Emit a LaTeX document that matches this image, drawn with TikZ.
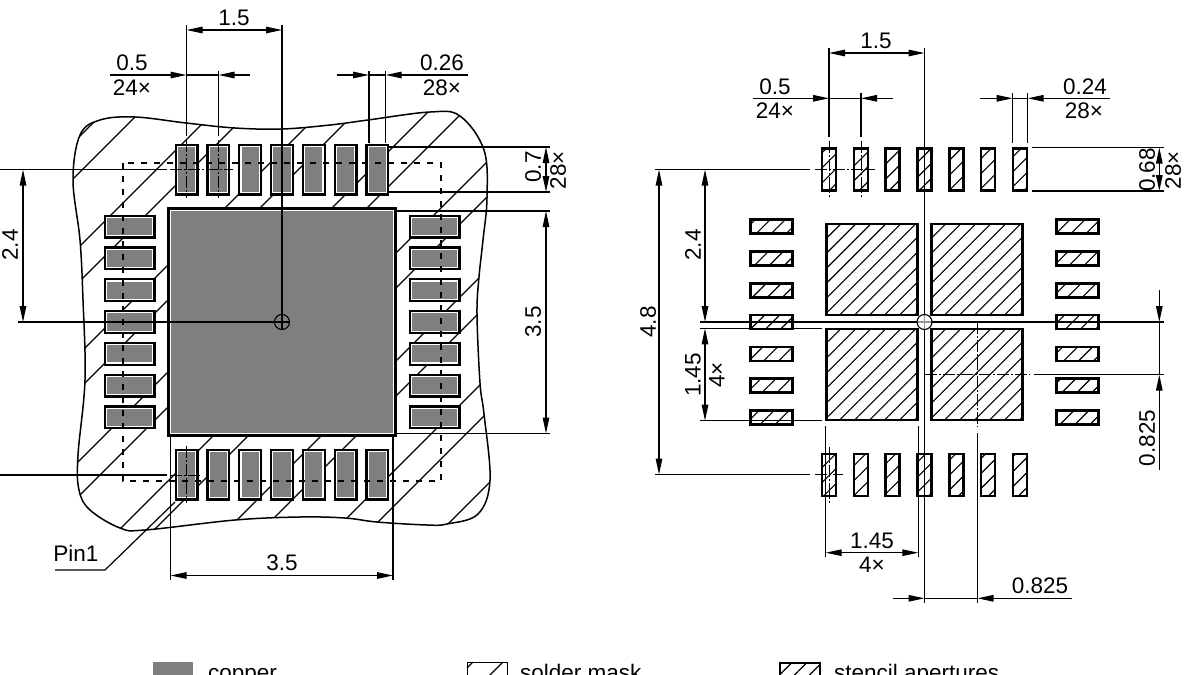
\documentclass[tikz,border=0pt]{standalone}
\usepackage{fontspec}
\setmainfont{Liberation Sans}
\usetikzlibrary{arrows.meta, patterns.meta}
\definecolor{copper}{HTML}{7F7F7F}
\tikzset{dimtip/.tip={Triangle[length=16pt,width=6.5pt]},
         dimline/.style={line width=1.2pt,dimtip-dimtip},
         oneline/.style={line width=1.2pt,-dimtip},
         extline/.style={line width=1.2pt},
         midline/.style={line width=.9pt,dash pattern=on 12pt off 2pt on 2pt off 2pt},
         maskedge/.style={line width=1.5pt},
         maskline/.style={line width=1.2pt},
         dashbox/.style={line width=1.1pt,dash pattern=on 6pt off 7pt},
         lbl/.style={inner sep=0pt,font=\fontsize{22.5}{25}\selectfont},
         legendlbl/.style={inner sep=0pt,anchor=base west,font=\fontsize{22.5}{25}\selectfont},
         padv/.style={draw,line width=2.2pt,fill=white,inner sep=0pt,minimum width=21.8pt,minimum height=49.8pt},
         padh/.style={padv,minimum width=49.8pt,minimum height=21.8pt},
         copperv/.style={fill=copper,inner sep=0pt,minimum width=17.3pt,minimum height=45.3pt},
         copperh/.style={copperv,minimum width=45.3pt,minimum height=17.3pt},
         stencil/.style={draw,line width=2.6pt,inner sep=0pt,pattern={Lines[angle=45,distance=10.6pt,line width=1.1pt]}},
         stencilv/.style={stencil,minimum width=14pt,minimum height=42pt},
         stencilh/.style={stencil,minimum width=42pt,minimum height=14pt},
         stencilq/.style={stencil,minimum width=91pt,minimum height=91pt}}

\begin{document}
\begin{tikzpicture}[x=1pt,y=-1pt]
        \useasboundingbox (0,0) rectangle (1200,675);

        \begin{scope}[maskedge]
            \path[draw,clip] plot[smooth cycle,tension=.6] coordinates {(135,117) (186,123) (235,128) (282,129) (330,125) (368,120) (430,112) (460,116) (484,150) (487,198) (483,240) (479,277) (477,314) (480,383) (484,414) (490,480) (478,514) (447,524) (427,525) (377,522) (345,518) (300,517) (235,520) (145,530) (120,528) (90,510) (79,490) (78,455) (85,380) (83,300) (80,240) (73,180) (80,135) (100,120)};
            \foreach \s in {216,252,326,361,433,468,540,575,649,684,757,792,865,900,972}
                \draw[maskline] (\s,0) -- ({\s-700},700);
        \end{scope}

        \node[draw,line width=2.7pt,fill=white,inner sep=0pt,minimum size=227.4pt](tpad)at(282,322){};
        \node[fill=copper,inner sep=0pt,minimum size=221.5pt](tcu)at(282,322){};
        \foreach \k in {-3,...,3} {
            \node[padv](lt\k)at({282+\k*31.8},169.5){};
            \node[copperv](ct\k)at({282+\k*31.8},169.5){};
            \node[padv](lb\k)at({282+\k*31.8},474.5){};
            \node[copperv](cb\k)at({282+\k*31.8},474.5){};
            \node[padh](ll\k)at(129.5,{322+\k*31.8}){};
            \node[copperh](cl\k)at(129.5,{322+\k*31.8}){};
            \node[padh](lr\k)at(434.5,{322+\k*31.8}){};
            \node[copperh](cr\k)at(434.5,{322+\k*31.8}){};
        }
        \draw[dashbox] (123,163) rectangle (441,481);

        \draw[extline] (186.5,25)--(186.5,136);
        \draw[extline] (218.5,71)--(218.5,136);
        \draw[extline] (282,25)--(282,329);
        \draw[midline] (186.5,140)--(186.5,198);
        \draw[midline] (218.5,140)--(218.5,198);
        \draw[midline] (186.5,446)--(186.5,503);
        \draw[dimline] (186.5,30)--(282,30);
        \node[lbl](l15)at(234,18){1.5};
        \draw[oneline] (110,75)--(186.5,75);
        \draw[extline] (186.5,75)--(218.5,75);
        \draw[oneline] (250,75)--(218.5,75);
        \node[lbl](l05)at(132,63){0.5};
        \node[lbl](l24x)at(132,88){24×};
        \draw[extline] (369,71)--(369,143);
        \draw[extline] (385.7,71)--(385.7,143);
        \draw[oneline] (336.5,75)--(369,75);
        \draw[extline] (369,75)--(385.7,75);
        \draw[oneline] (467.5,75)--(385.7,75);
        \node[lbl](l026)at(442,63){0.26};
        \node[lbl](l28x)at(442,88){28×};
        \draw[extline] (389,147)--(550,147);
        \draw[extline] (389,192)--(550,192);
        \draw[dimline] (546,192)--(546,147);
        \node[lbl,rotate=90](l07)at(533,167){0.7};
        \node[lbl,rotate=90](l28y)at(558,170){28×};
        \draw[extline] (397,211)--(550,211);
        \draw[extline] (397,433.5)--(550,433.5);
        \draw[dimline] (546,433.5)--(546,211);
        \node[lbl,rotate=90](l35r)at(533,322){3.5};
        \draw[extline] (0,169.5)--(167,169.5);
        \draw[midline] (170,169.5)--(233,169.5);
        \draw[extline] (18,322)--(289,322);
        \draw[dimline] (23,322)--(23,169.5);
        \node[lbl,rotate=90](l24)at(10,245){2.4};
        \draw[extline] (0,475)--(167,475);
        \draw[midline] (170,475)--(201,475);
        \draw[extline] (170.5,437)--(170.5,580);
        \draw[extline] (393,437)--(393,580);
        \draw[dimline] (170.5,575.5)--(393,575.5);
        \node[lbl](l35b)at(282,563){3.5};
        \node[lbl](lpin)at(76,553){Pin1};
        \draw[extline] (55,570)--(105,570)--(175,502);
        \node[draw,line width=1.1pt,circle,inner sep=0pt,minimum size=15pt](hub1)at(282,322){};

        \foreach \k in {-3,...,3} {
            \node[stencilv](at\k)at({924.5+\k*31.8},169.5){};
            \node[stencilv](ab\k)at({924.5+\k*31.8},475){};
            \node[stencilh](al\k)at(771.7,{322+\k*31.8}){};
            \node[stencilh](ar\k)at(1077.3,{322+\k*31.8}){};
        }
        \node[stencilq](qa)at(872,269.5){};
        \node[stencilq](qb)at(977,269.5){};
        \node[stencilq](qc)at(872,374.5){};
        \node[stencilq](qd)at(977,374.5){};

        \draw[extline] (829,48)--(829,137);
        \draw[extline] (861,93)--(861,137);
        \draw[extline] (924.5,48)--(924.5,603);
        \draw[midline] (829,141)--(829,197);
        \draw[midline] (861,141)--(861,197);
        \draw[midline] (829,447)--(829,503);
        \draw[dimline] (829,53)--(924.5,53);
        \node[lbl](r15)at(876,41){1.5};
        \draw[oneline] (752.7,98.3)--(829,98.3);
        \draw[extline] (829,98.3)--(861,98.3);
        \draw[oneline] (892.7,98.3)--(861,98.3);
        \node[lbl](r05)at(775,87){0.5};
        \node[lbl](r24x)at(775,111){24×};
        \draw[extline] (1012.7,93)--(1012.7,143);
        \draw[extline] (1027.7,93)--(1027.7,143);
        \draw[oneline] (980,98.3)--(1012.7,98.3);
        \draw[extline] (1012.7,98.3)--(1027.7,98.3);
        \draw[oneline] (1110,98.3)--(1027.7,98.3);
        \node[lbl](r024)at(1085,87){0.24};
        \node[lbl](r28x)at(1084,111){28×};
        \draw[extline] (1031.7,147.5)--(1164,147.5);
        \draw[extline] (1031.7,191)--(1164,191);
        \draw[dimline] (1159.3,191)--(1159.3,147.5);
        \node[lbl,rotate=90](r068)at(1147,170){0.68};
        \node[lbl,rotate=90](r28y)at(1173,170){28×};
        \draw[extline] (655,169.5)--(810,169.5);
        \draw[midline] (815,169.5)--(875,169.5);
        \draw[extline] (655,474.5)--(810,474.5);
        \draw[midline] (815,474.5)--(843,474.5);
        \draw[dimline] (659,474.5)--(659,169.5);
        \node[lbl,rotate=90](r48)at(648,322){4.8};
        \draw[dimline] (705,322)--(705,169.5);
        \node[lbl,rotate=90](r24)at(693,245){2.4};
        \draw[extline] (700,322)--(1164,322);
        \draw[extline] (700,328.3)--(821.7,328.3);
        \draw[extline] (700,420.7)--(821.7,420.7);
        \draw[dimline] (705,420.7)--(705,328.3);
        \node[lbl,rotate=90](r145)at(693,375){1.45};
        \node[lbl,rotate=90](r4x)at(717,375){4×};
        \draw[midline] (924.5,374.7)--(1030,374.7);
        \draw[extline] (1034,374.7)--(1164,374.7);
        \draw[oneline] (1159.3,290)--(1159.3,322);
        \draw[extline] (1159.3,322)--(1159.3,374.7);
        \draw[oneline] (1159.3,470)--(1159.3,374.7);
        \node[lbl,rotate=90](r0825)at(1147,438){0.825};
        \draw[midline] (977.5,322)--(977.5,427);
        \draw[extline] (977.5,433)--(977.5,603);
        \draw[oneline] (892.7,598.3)--(924.5,598.3);
        \draw[extline] (924.5,598.3)--(977.5,598.3);
        \draw[oneline] (1071.7,598.3)--(977.5,598.3);
        \node[lbl](b0825)at(1040,586){0.825};
        \draw[extline] (825.7,426)--(825.7,557);
        \draw[extline] (918.3,426)--(918.3,557);
        \draw[dimline] (825.7,552.7)--(918.3,552.7);
        \node[lbl](b145)at(872,541){1.45};
        \node[lbl](b4x)at(872,565){4×};
        \node[draw,line width=1.1pt,circle,fill=white,fill opacity=.6,inner sep=0pt,minimum size=15pt](hub2)at(924.5,322){};

        \node[fill=copper,inner sep=0pt,anchor=north west,minimum width=40pt,minimum height=30pt](lgcu)at(153,661.5){};
        \node[legendlbl](lgcut)at(208,680){copper};
        \node[draw,line width=1.2pt,inner sep=0pt,anchor=north west,minimum width=40pt,minimum height=30pt](lgmk)at(467,662){};
        \draw[maskline] (lgmk.north west)++(0,6)--++(6,-6);
        \draw[maskline] (lgmk.north west)++(9,27)--++(27,-27);
        \node[legendlbl](lgmkt)at(520,680){solder mask};
        \node[stencil,line width=1.6pt,anchor=north west,minimum width=40pt,minimum height=30pt](lgst)at(779,662){};
        \node[legendlbl](lgstt)at(834,680){stencil apertures};
    \end{tikzpicture}
\end{document}
